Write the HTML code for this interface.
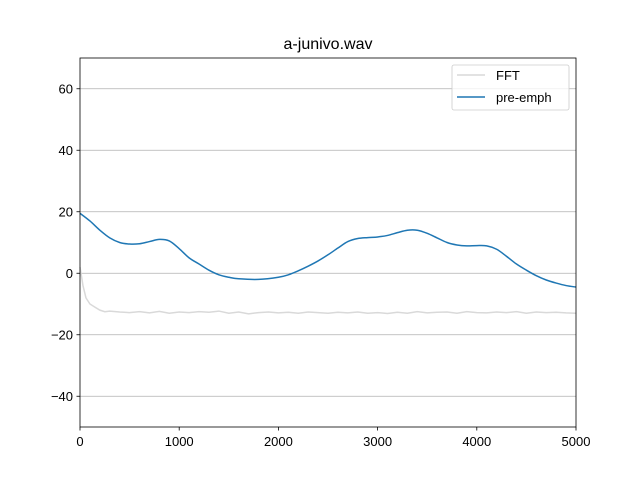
<!DOCTYPE html>
<html><head><meta charset="utf-8"><style>body{margin:0;background:#fff}svg{font-family:"Liberation Sans","DejaVu Sans",sans-serif}</style></head>
<body>
<svg id="c" width="640" height="480"></svg>
<script>
const preX=[0,100,200,300,400,500,600,700,800,900,1000,1100,1200,1300,1400,1500,1600,1800,2000,2100,2200,2300,2400,2500,2600,2700,2800,2900,3000,3100,3200,3300,3400,3500,3600,3700,3800,3900,4000,4100,4200,4300,4400,4500,4600,4700,4800,4900,5000];
const preY=[19.5,17,14,11.5,10,9.5,9.6,10.3,11,10.5,8,5,3,1,-0.5,-1.3,-1.8,-2,-1.3,-0.5,0.8,2.3,4,6,8.2,10.3,11.3,11.6,11.8,12.3,13.2,14,14,13,11.5,10,9.2,8.9,9,8.9,7.8,5.5,3,1,-0.8,-2.2,-3.2,-4,-4.5];
const fftX=[0,30,60,100,150,200,250,300,400,500,600,700,800,900,1000,1100,1200,1300,1400,1500,1600,1700,1800,1900,2000,2100,2200,2300,2400,2500,2600,2700,2800,2900,3000,3100,3200,3300,3400,3500,3600,3700,3800,3900,4000,4100,4200,4300,4400,4500,4600,4700,4800,4900,5000];
const fftY=[2,-4,-8,-10,-11,-12,-12.5,-12.3,-12.6,-12.8,-12.5,-12.9,-12.4,-13,-12.6,-12.8,-12.5,-12.7,-12.3,-13,-12.6,-13.2,-12.8,-12.6,-12.9,-12.7,-13,-12.6,-12.8,-13,-12.7,-12.9,-12.6,-13,-12.8,-13.1,-12.7,-13,-12.5,-12.9,-12.7,-12.6,-13,-12.5,-12.8,-12.9,-12.6,-12.8,-12.5,-13,-12.6,-12.8,-12.7,-12.9,-13];
const xTicks=[0,1000,2000,3000,4000,5000];
const yTicks=[-40,-20,0,20,40,60];
const L=80,R=576,T=58,B=427,x0=0,x1=5000,y0=-50,y1=70;
const sx=v=>L+(v-x0)/(x1-x0)*(R-L), sy=v=>B-(v-y0)/(y1-y0)*(B-T);
const s=document.getElementById('c');const NS='http://www.w3.org/2000/svg';
function el(t,a,p){const e=document.createElementNS(NS,t);for(const k in a)e.setAttribute(k,a[k]);(p||s).appendChild(e);return e;}
function smooth(pts){let d='M'+pts[0][0]+','+pts[0][1];for(let i=0;i<pts.length-1;i++){const p0=pts[Math.max(0,i-1)],p1=pts[i],p2=pts[i+1],p3=pts[Math.min(pts.length-1,i+2)];d+=' C'+(p1[0]+(p2[0]-p0[0])/6)+','+(p1[1]+(p2[1]-p0[1])/6)+' '+(p2[0]-(p3[0]-p1[0])/6)+','+(p2[1]-(p3[1]-p1[1])/6)+' '+p2[0]+','+p2[1];}return d;}
yTicks.forEach(v=>{
const g=el('line',{x1:L,x2:R,y1:sy(v),y2:sy(v),stroke:'#b0b0b0','stroke-width':0.8});


const tk=el('line',{x1:L-3.5,x2:L,y1:sy(v),y2:sy(v),stroke:'#000','stroke-width':0.8});


const t=el('text',{x:L-7,y:sy(v)+4.5,'text-anchor':'end','font-size':13});t.textContent=v<0?'\u2212'+(-v):v;


});
xTicks.forEach(v=>{
const tk=el('line',{x1:sx(v),x2:sx(v),y1:B,y2:B+3.5,stroke:'#000','stroke-width':0.8});


const t=el('text',{x:sx(v),y:B+19,'text-anchor':'middle','font-size':13});t.textContent=v;


});
const f=el('polyline',{points:fftX.map((x,i)=>sx(x)+','+sy(fftY[i])).join(' '),fill:'none',stroke:'#d9d9d9','stroke-width':1.5});


const p=el('path',{d:smooth(preX.map((x,i)=>[sx(x),sy(preY[i])])),fill:'none',stroke:'#1f77b4','stroke-width':1.5});


const fr=el('rect',{x:L,y:T,width:R-L,height:B-T,fill:'none',stroke:'#000','stroke-width':0.8});


const ti=el('text',{x:(L+R)/2,y:T-9,'text-anchor':'middle','font-size':16});ti.textContent='a-junivo.wav';


const lg=el('g',{});


el('rect',{x:452,y:65,width:117,height:45,rx:2,fill:'#fff','fill-opacity':0.8,stroke:'#ccc','stroke-width':0.8},lg);
el('line',{x1:457,x2:485,y1:75,y2:75,stroke:'#d9d9d9','stroke-width':1.5},lg);
const t1=el('text',{x:496,y:80,'font-size':13},lg);t1.textContent='FFT';


el('line',{x1:457,x2:485,y1:97,y2:97,stroke:'#1f77b4','stroke-width':1.5},lg);
const t2=el('text',{x:496,y:102,'font-size':13},lg);t2.textContent='pre-emph';


</script>
</body></html>
